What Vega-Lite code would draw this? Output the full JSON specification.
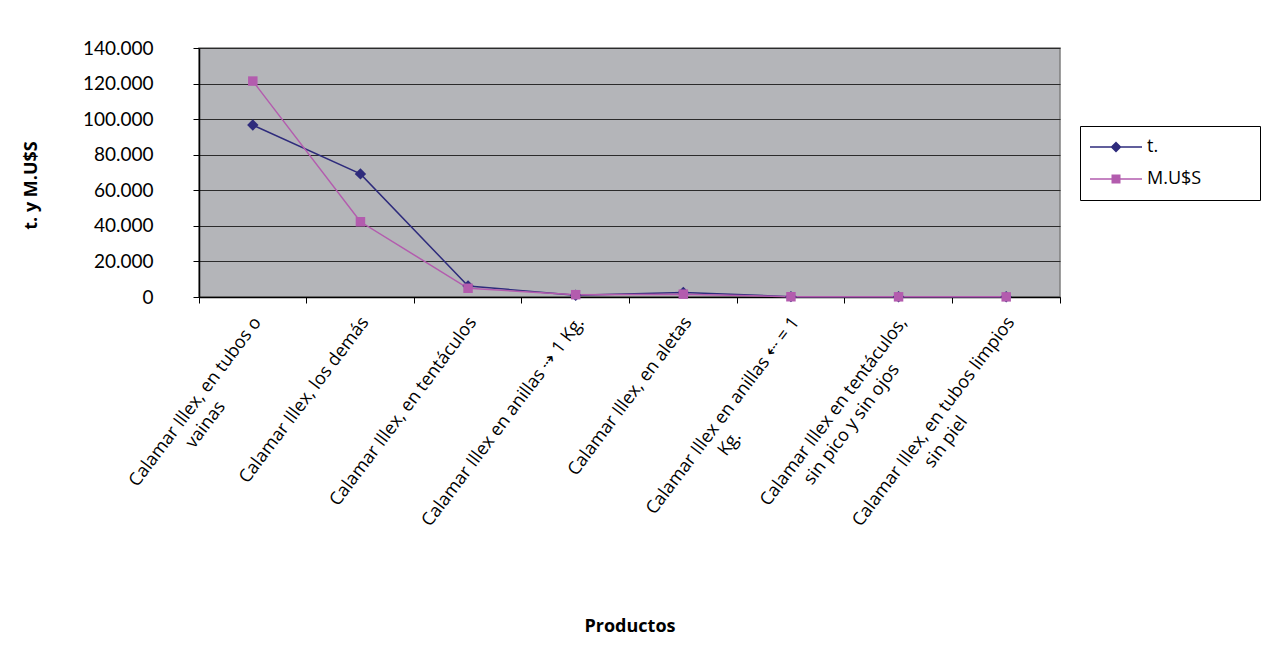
{
  "$schema": "https://vega.github.io/schema/vega-lite/v6.json",
  "width": 861,
  "height": 249,
  "autosize": {"type": "none"},
  "padding": {"left": 199, "top": 48, "right": 203, "bottom": 350},
  "background": "white",
  "config": {
    "view": {"fill": "#b4b5b9", "stroke": "#7f7f7f", "strokeWidth": 1.5},
    "font": "Open Sans"
  },
  "data": {
    "values": [
      {"product": "Calamar Illex, en tubos o|vainas", "series": "t.", "value": 96700},
      {"product": "Calamar Illex, los demás", "series": "t.", "value": 69200},
      {"product": "Calamar Illex, en tentáculos", "series": "t.", "value": 6200},
      {"product": "Calamar Illex en anillas ⇢ 1 Kg.", "series": "t.", "value": 1000},
      {"product": "Calamar Illex, en aletas", "series": "t.", "value": 2600},
      {"product": "Calamar Illex en anillas ⇠ = 1|Kg.", "series": "t.", "value": 200},
      {"product": "Calamar Illex en tentáculos,|sin pico y sin ojos", "series": "t.", "value": 150},
      {"product": "Calamar Illex, en tubos limpios|sin piel", "series": "t.", "value": 100},
      {"product": "Calamar Illex, en tubos o|vainas", "series": "M.U$S", "value": 121400},
      {"product": "Calamar Illex, los demás", "series": "M.U$S", "value": 42300},
      {"product": "Calamar Illex, en tentáculos", "series": "M.U$S", "value": 4900},
      {"product": "Calamar Illex en anillas ⇢ 1 Kg.", "series": "M.U$S", "value": 1300},
      {"product": "Calamar Illex, en aletas", "series": "M.U$S", "value": 1600},
      {"product": "Calamar Illex en anillas ⇠ = 1|Kg.", "series": "M.U$S", "value": 150},
      {"product": "Calamar Illex en tentáculos,|sin pico y sin ojos", "series": "M.U$S", "value": 100},
      {"product": "Calamar Illex, en tubos limpios|sin piel", "series": "M.U$S", "value": 80}
    ]
  },
  "encoding": {
    "y": {
      "field": "value",
      "type": "quantitative",
      "scale": {"domain": [0, 140000], "nice": false},
      "axis": {
        "title": "t. y M.U$S",
        "titleFont": "Open Sans",
        "titleFontSize": 18,
        "titleFontWeight": "bold",
        "titleColor": "black",
        "titleX": -168,
        "titleY": 137,
        "titleAngle": -90,
        "titleBaseline": "middle",
        "titleAlign": "center",
        "labelFont": "Lato",
        "labelFontSize": 19,
        "labelColor": "black",
        "labelPadding": 40,
        "tickSize": 6,
        "tickColor": "black",
        "domainColor": "black",
        "domainWidth": 1.5,
        "grid": true,
        "gridColor": "#2b2b2b",
        "gridWidth": 1,
        "values": [0, 20000, 40000, 60000, 80000, 100000, 120000, 140000],
        "labelExpr": "replace(format(datum.value, ','), ',', '.')"
      }
    }
  },
  "layer": [
    {
      "transform": [{"filter": "datum.series === 't.'"}],
      "mark": {"type": "line", "strokeWidth": 1.5, "color": "#2e2b7c"},
      "encoding": {
        "x": {
          "field": "product",
          "type": "nominal",
          "sort": null,
          "bandPosition": 0.5,
          "scale": {"type": "band", "paddingInner": 0, "paddingOuter": 0},
          "axis": {
            "orient": "bottom",
            "labelAngle": -53,
            "labelAlign": "right",
            "labelBaseline": "middle",
            "labelExpr": "length(split(datum.label, '|')) > 1 ? [split(datum.label, '|')[0], pad(split(datum.label, '|')[1], length(split(datum.label, '|')[0]), '\u00a0') + '\u200b'] : datum.label",
            "labelLimit": 0,
            "labelFont": "Open Sans",
            "labelFontSize": 18,
            "labelLineHeight": 22,
            "labelColor": "black",
            "labelPadding": 22,
            "labelOffset": 5,
            "ticks": false,
            "domain": false,
            "grid": false,
            "title": "Productos",
            "titleFont": "Open Sans",
            "titleFontSize": 18,
            "titleFontWeight": "bold",
            "titleColor": "black",
            "titleY": 320,
            "titleBaseline": "top"
          }
        }
      }
    },
    {
      "transform": [{"filter": "datum.series === 'M.U$S'"}],
      "mark": {"type": "line", "strokeWidth": 1.5, "color": "#b35cae"},
      "encoding": {
        "x": {
          "field": "product",
          "type": "nominal",
          "sort": null,
          "bandPosition": 0.5,
          "scale": {"type": "band", "paddingInner": 0, "paddingOuter": 0},
          "axis": null
        }
      }
    },
    {
      "mark": {"type": "point", "filled": true, "opacity": 0},
      "encoding": {
        "x": {
          "field": "product",
          "type": "nominal",
          "sort": null,
          "bandPosition": 0.5,
          "scale": {"type": "band", "paddingInner": 0, "paddingOuter": 0},
          "axis": {
            "orient": "bottom",
            "bandPosition": 1,
            "tickExtra": true,
            "labels": false,
            "ticks": true,
            "tickSize": 6,
            "tickColor": "black",
            "domain": true,
            "domainColor": "black",
            "domainWidth": 1.5,
            "grid": false,
            "title": null
          }
        },
        "color": {
          "field": "series",
          "type": "nominal",
          "sort": null,
          "scale": {"domain": ["t.", "M.U$S"], "range": ["#2e2b7c", "#b35cae"]},
          "legend": {
            "title": null,
            "orient": "none",
            "legendX": 881,
            "legendY": 78,
            "strokeColor": "black",
            "fillColor": "white",
            "padding": 12,
            "symbolSize": 100,
            "symbolOffset": 15,
            "symbolOpacity": 1,
            "symbolStrokeWidth": 0,
            "labelOffset": 22,
            "labelFont": "Open Sans",
            "labelFontSize": 18,
            "labelColor": "black",
            "rowPadding": 14,
            "labelExpr": "pad(datum.label, 15, '\u00a0') + '\u200b'"
          }
        },
        "shape": {
          "field": "series",
          "type": "nominal",
          "sort": null,
          "scale": {
            "domain": ["t.", "M.U$S"],
            "range": [
              "M-5.2,-0.15H5.2V0.15H-5.2ZM-1.1,0L0,-1.1L1.1,0L0,1.1Z",
              "M-5.2,-0.15H5.2V0.15H-5.2ZM-0.9,-0.9H0.9V0.9H-0.9Z"
            ]
          },
          "legend": null
        }
      }
    },
    {
      "transform": [{"filter": "datum.series === 't.'"}],
      "mark": {"type": "point", "filled": true, "opacity": 1, "shape": "diamond", "size": 130, "color": "#2e2b7c"},
      "encoding": {
        "x": {
          "field": "product",
          "type": "nominal",
          "sort": null,
          "bandPosition": 0.5,
          "scale": {"type": "band", "paddingInner": 0, "paddingOuter": 0},
          "axis": null
        }
      }
    },
    {
      "transform": [{"filter": "datum.series === 'M.U$S'"}],
      "mark": {"type": "point", "filled": true, "opacity": 1, "shape": "square", "size": 90, "color": "#b35cae"},
      "encoding": {
        "x": {
          "field": "product",
          "type": "nominal",
          "sort": null,
          "bandPosition": 0.5,
          "scale": {"type": "band", "paddingInner": 0, "paddingOuter": 0},
          "axis": null
        }
      }
    }
  ],
  "resolve": {"axis": {"x": "independent"}}
}
